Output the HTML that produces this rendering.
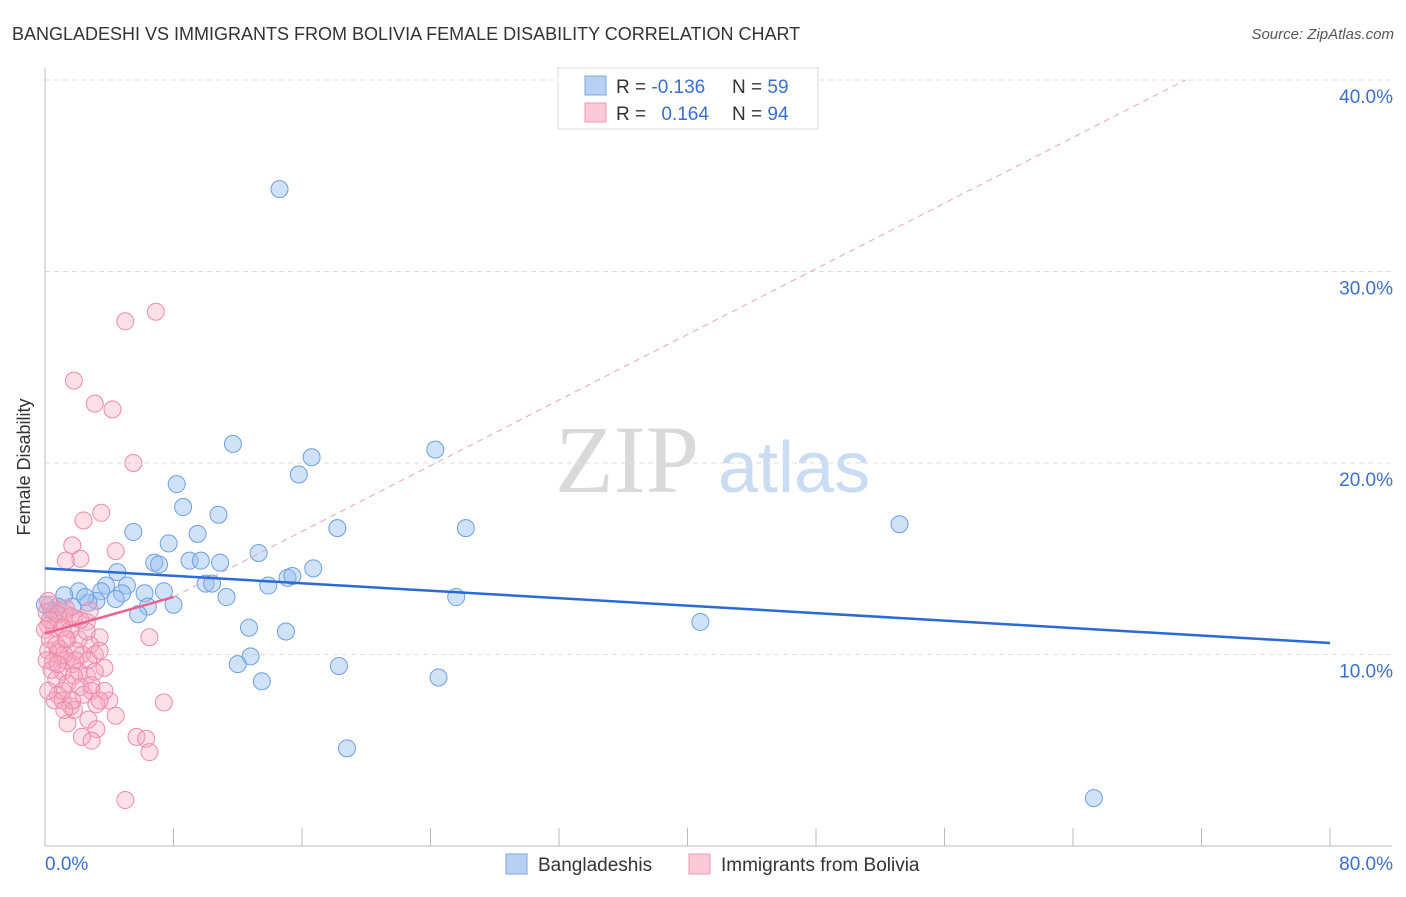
<!DOCTYPE html>
<html><head><meta charset="utf-8"><style>
body{margin:0;background:#fff;font-family:"Liberation Sans",sans-serif;}
svg text{font-family:"Liberation Sans",sans-serif;}
</style></head><body>
<svg width="1406" height="892" viewBox="0 0 1406 892">
<text x="12" y="40" font-size="18" fill="#333">BANGLADESHI VS IMMIGRANTS FROM BOLIVIA FEMALE DISABILITY CORRELATION CHART</text>
<text x="1394" y="39" font-size="15" fill="#555" font-style="italic" text-anchor="end">Source: ZipAtlas.com</text>
<g>
<text x="555" y="492" font-size="96" fill="#d9d9d9" font-family="Liberation Serif" style="font-family:'Liberation Serif',serif">ZIP</text>
<text x="718" y="492" font-size="72" fill="#c9dcf3">atlas</text>
</g>
<g id="grid"></g>
<g id="axes"></g>
<g id="trends"></g>
<g id="pts"></g>
<g>
<rect x="558" y="68" width="260" height="61" fill="#fff" stroke="#ddd"/>
<rect x="585" y="76" width="21" height="19" fill="#b8d1f3" stroke="#7aa6e3"/>
<rect x="585" y="103" width="21" height="19" fill="#fbc8d7" stroke="#ee9ab4"/>
<text x="616" y="93" font-size="19" fill="#333">R = <tspan fill="#3a6fd1">-0.136</tspan></text>
<text x="732" y="93" font-size="19" fill="#333">N = <tspan fill="#3a6fd1">59</tspan></text>
<text x="616" y="120" font-size="19" fill="#333">R = <tspan fill="#3a6fd1" dx="10">0.164</tspan></text>
<text x="732" y="120" font-size="19" fill="#333">N = <tspan fill="#3a6fd1">94</tspan></text>
</g>
<g>
<rect x="506" y="854" width="21" height="20" fill="#b8d1f3" stroke="#7aa6e3"/>
<text x="538" y="871" font-size="19" fill="#333">Bangladeshis</text>
<rect x="689" y="854" width="21" height="20" fill="#fbc8d7" stroke="#ee9ab4"/>
<text x="721" y="871" font-size="19" fill="#333">Immigrants from Bolivia</text>
</g>
<text x="18" y="455" font-size="18" fill="#333" transform="rotate(-90 30 455)" text-anchor="middle">Female Disability</text>
</svg>
<script>
const yTicks=[10,20,30,40];
const yTickLabels=["10.0%","20.0%","30.0%","40.0%"];
const xTickCount=10;
const blueX=[14.6,11.7,24.3,16.6,15.8,8.2,8.6,10.8,5.5,9.5,18.2,26.2,53.2,7.7,13.3,6.8,7.1,9.0,9.7,10.9,16.7,4.5,15.1,15.4,10.0,10.4,13.9,5.1,3.8,2.1,1.2,6.2,7.4,3.5,3.2,4.8,11.3,8.0,6.4,2.7,1.7,0.8,0.4,5.8,25.6,40.8,12.7,15.0,0.6,12.8,12.0,18.3,13.5,24.5,18.8,65.3,0.0,2.5,4.4];
const blueY=[34.3,21.0,20.7,20.3,19.4,18.9,17.7,17.3,16.4,16.3,16.6,16.6,16.8,15.8,15.3,14.8,14.7,14.9,14.9,14.8,14.5,14.3,14.0,14.1,13.7,13.7,13.6,13.6,13.6,13.3,13.1,13.2,13.3,13.3,12.8,13.2,13.0,12.6,12.5,12.7,12.5,12.5,12.3,12.1,13.0,11.7,11.4,11.2,12.2,9.9,9.5,9.4,8.6,8.8,5.1,2.5,12.6,13.0,12.9];
const pinkX=[6.9,5.0,1.8,3.1,4.2,5.5,3.5,2.4,1.7,4.4,2.2,1.3,0.3,0.1,1.2,1.8,2.6,0.2,0.6,3.4,6.5,1.4,2.8,0.9,0.2,0.8,2.3,3.1,1.3,1.7,0.5,3.7,1.1,2.1,2.6,0.7,1.4,2.9,0.8,2.2,1.1,4.0,1.6,3.2,1.8,7.4,4.4,2.7,1.4,3.2,2.3,5.7,2.9,6.3,6.5,5.0,0,0.3,0.9,1.6,2.1,2.7,1.1,0.6,1.9,1.3,0.8,0.1,0.4,2.4,3.4,2.8,1.7,1.2,0.2,0.7,1.2,1.8,2.6,3.1,3.7,1.6,2.2,0.2,1.3,1.9,0.8,2.9,3.4,0.3,1.1];
const pinkY=[27.9,27.4,24.3,23.1,22.8,20.0,17.4,17.0,15.7,15.4,15.0,14.9,12.6,12.2,12.2,11.9,11.7,11.5,11.4,10.9,10.9,10.8,10.5,10.3,10.2,10.1,10.0,10.0,9.7,9.5,9.6,9.3,9.1,9.1,8.9,8.7,8.5,8.1,7.9,8.3,7.6,7.6,7.3,7.4,7.1,7.5,6.8,6.6,6.4,6.1,5.7,5.7,5.5,5.6,4.9,2.4,11.3,10.8,11.8,11.3,10.8,9.7,8.1,7.6,10.2,12.4,12.1,9.7,9.2,7.9,10.2,12.3,7.6,7.1,12.8,10.5,10.0,8.9,11.2,9.1,8.1,12.0,11.8,8.1,10.8,9.7,9.5,8.4,7.6,11.8,11.4];
const blueTrend=[[0,14.5],[80,10.6]];
const pinkTrend=[[0,11.1],[8,13.0]];
const pinkDash=[[8,13.0],[71,40]];
const NS="http://www.w3.org/2000/svg";
const X=v=>45+v*16.0625, Y=v=>846-v*19.15;
function mk(tag,attrs,parent){const e=document.createElementNS(NS,tag);for(const k in attrs)e.setAttribute(k,attrs[k]);parent.appendChild(e);return e;}
const grid=document.getElementById('grid'),axes=document.getElementById('axes'),tr=document.getElementById('trends'),pts=document.getElementById('pts');
yTicks.forEach((t,i)=>{
 const l=mk('line',{x1:45,x2:1392,y1:Y(t),y2:Y(t),stroke:'#ddd','stroke-dasharray':'5,4'},grid);
 
 
 const tx=mk('text',{x:1393,y:Y(t)+23,'font-size':19,fill:'#3a6fd1','text-anchor':'end'},axes);
 tx.textContent=yTickLabels[i];
 
 
});
let a=mk('line',{x1:45,x2:1392,y1:846,y2:846,stroke:'#bbb'},axes);


a=mk('line',{x1:45,x2:45,y1:68,y2:846,stroke:'#bbb'},axes);


for(let i=1;i<=xTickCount;i++){const x=X(i*8);const t=mk('line',{x1:x,x2:x,y1:828,y2:846,stroke:'#bbb'},axes);
 
 }
let t0=mk('text',{x:45,y:870,'font-size':19,fill:'#3a6fd1'},axes);t0.textContent='0.0%';


t0=mk('text',{x:1393,y:870,'font-size':19,fill:'#3a6fd1','text-anchor':'end'},axes);t0.textContent='80.0%';


function line(p,attrs,name){const l=mk('line',Object.assign({x1:X(p[0][0]),y1:Y(p[0][1]),x2:X(p[1][0]),y2:Y(p[1][1])},attrs),tr);
 
 }
line(pinkDash,{stroke:'#eaa3b8','stroke-width':1,'stroke-dasharray':'6,5'},'pink-reference-dashed');
blueX.forEach((x,i)=>{const c=mk('circle',{cx:X(x),cy:Y(blueY[i]),r:8.5,fill:'rgba(150,190,240,0.45)',stroke:'#6d9fe2','stroke-width':1},pts);
 
 });
pinkX.forEach((x,i)=>{const c=mk('circle',{cx:X(x),cy:Y(pinkY[i]),r:8.5,fill:'rgba(245,165,190,0.35)',stroke:'#ec8cab','stroke-width':1},pts);
 
 });
const tr2=document.getElementById('trends');pts.after(tr2);
line(blueTrend,{stroke:'#2a6ad4','stroke-width':2.5},'trend-bangladeshi');
line(pinkTrend,{stroke:'#e8638d','stroke-width':2.5},'trend-bolivia');
</script>
</body></html>
